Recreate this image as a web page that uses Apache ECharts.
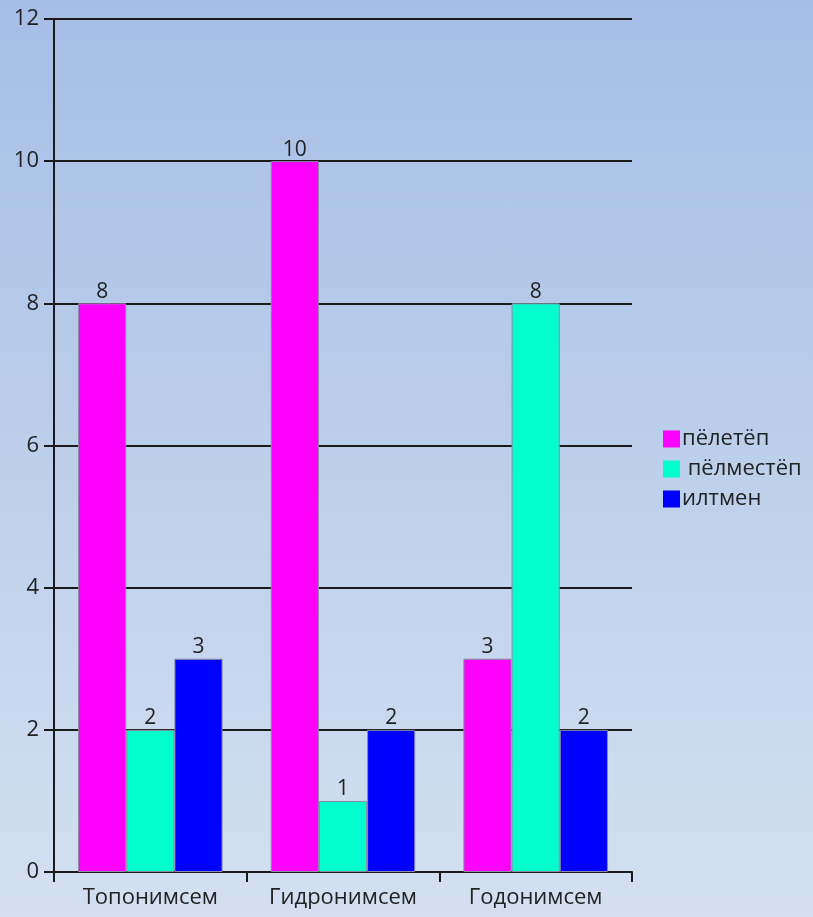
<!DOCTYPE html>
<html><head><meta charset="utf-8">
<script src="https://cdn.jsdelivr.net/npm/echarts@6/dist/echarts.min.js"></script>
<style>html,body{margin:0;padding:0;}#c{width:813px;height:917px;background:linear-gradient(to bottom,#a6bee6 0%,#bccfeb 50%,#d4e0f1 100%);}</style>
</head><body><div id="c"></div>
<script>
const categories = ['Топонимсем', 'Гидронимсем', 'Годонимсем'];
const seriesNames = ['пёлетёп', ' пёлместёп', 'илтмен'];
const peletep = [8, 10, 3];
const pelmestep = [2, 1, 8];
const iltmen = [3, 2, 2];
const colors = ['#ff00ff', '#00ffcc', '#0000ff'];
const values = [peletep, pelmestep, iltmen];

const chart = echarts.init(document.getElementById('c'));
const font = '"Open Sans", "Liberation Sans", sans-serif';
chart.setOption({
  backgroundColor: 'transparent',
  animation: false,
  textStyle: { fontFamily: font },
  grid: { left: 54, right: 181, top: 19, bottom: 45 },
  legend: {
    orient: 'vertical', left: 658, top: 423,
    itemWidth: 17, itemHeight: 17, itemGap: 8,
    icon: 'rect',
    itemStyle: { borderWidth: 0 },
    textStyle: { fontSize: 22, color: '#222', fontFamily: font, padding: [0,0,0,-3] },
    data: seriesNames
  },
  xAxis: {
    type: 'category', data: categories,
    axisLine: { lineStyle: { color: '#1a1a1a', width: 2 } },
    axisTick: { show: true, interval: 0, alignWithLabel: false, length: 10, lineStyle: { color: '#1a1a1a', width: 2 } },
    axisLabel: { interval: 0, hideOverlap: false, fontSize: 22, color: '#222', margin: 15, fontFamily: font }
  },
  yAxis: {
    type: 'value', min: 0, max: 12, interval: 2,
    axisLine: { show: true, lineStyle: { color: '#1a1a1a', width: 2 } },
    axisTick: { show: true, length: 10, inside: false, lineStyle: { color: '#1a1a1a', width: 2 } },
    splitLine: { lineStyle: { color: '#1a1a1a', width: 2 } },
    axisLabel: { fontSize: 22, color: '#222', margin: 15, fontFamily: font }
  },
  series: values.map((v, i) => ({
    name: seriesNames[i], type: 'bar', data: v,
    barGap: '0%', barCategoryGap: '25%',
    itemStyle: { color: colors[i], borderColor: '#8a8aa0', borderWidth: 1 },
    label: { show: true, position: 'top', fontSize: 21, color: '#222', distance: 1, fontFamily: font }
  }))
});
</script></body></html>
